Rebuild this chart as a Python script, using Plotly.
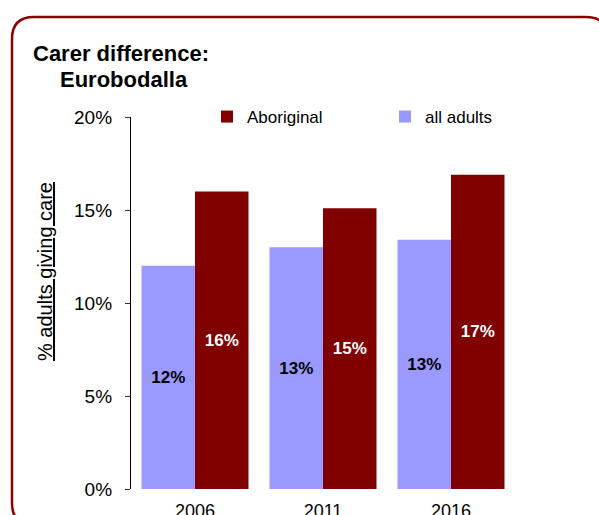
import plotly.graph_objects as go

# Share of adults providing unpaid care, Eurobodalla
years = ["2006", "2011", "2016"]
all_adults = [12.0, 13.0, 13.4]
aboriginal = [16.0, 15.1, 16.9]
y_ticks = [0, 5, 10, 15, 20]
y_tick_labels = ["0%", "5%", "10%", "15%", "20%"]

FONT = "Arial, Liberation Sans, Helvetica, sans-serif"
W, H = 599, 515
L, R, T, B = 131, 515, 117, 489  # plot area edges in pixels


def px(x):
    return (x - L) / (R - L)


def py(y):
    return (B - y) / (B - T)


fig = go.Figure()
fig.add_trace(go.Bar(
    x=years, y=all_adults, name="all adults",
    marker=dict(color="#9999FF", line=dict(width=0)),
    texttemplate="<b>%{y:.0f}%</b>", textposition="inside",
    insidetextanchor="middle", textangle=0,
    textfont=dict(family=FONT, size=17, color="#000000"),
))
fig.add_trace(go.Bar(
    x=years, y=aboriginal, name="Aboriginal",
    marker=dict(color="#800000", line=dict(width=0)),
    texttemplate="<b>%{y:.0f}%</b>", textposition="inside",
    insidetextanchor="middle", textangle=0,
    textfont=dict(family=FONT, size=17, color="#FFFFFF"),
))

# Rounded frame around the panel (runs off the right and bottom edges)
fl, ft, fr, fb, rad = 12, 17, 608, 525, 22
frame = (
    f"M {px(fl)},{py(fb - rad)} "
    f"L {px(fl)},{py(ft + rad)} Q {px(fl)},{py(ft)} {px(fl + rad)},{py(ft)} "
    f"L {px(fr - rad)},{py(ft)} Q {px(fr)},{py(ft)} {px(fr)},{py(ft + rad)} "
    f"L {px(fr)},{py(fb - rad)} Q {px(fr)},{py(fb)} {px(fr - rad)},{py(fb)} "
    f"L {px(fl + rad)},{py(fb)} Q {px(fl)},{py(fb)} {px(fl)},{py(fb - rad)} Z"
)
fig.add_shape(type="path", path=frame, xref="paper", yref="paper",
              line=dict(color="#8B0000", width=2.5), layer="above")

annotations = [
    dict(text="<b>Carer difference:</b>", x=px(31), y=py(53.5),
         xanchor="left", yanchor="middle", showarrow=False,
         font=dict(family=FONT, size=22, color="#000000")),
    dict(text="<b>Eurobodalla</b>", x=px(58), y=py(79.5),
         xanchor="left", yanchor="middle", showarrow=False,
         font=dict(family=FONT, size=22, color="#000000")),
    dict(text="<u>% adults giving care</u>", x=px(45), y=py(272),
         xanchor="center", yanchor="middle", showarrow=False, textangle=-90,
         font=dict(family=FONT, size=20, color="#000000")),
]
for a in annotations:
    a.update(xref="paper", yref="paper")

fig.update_layout(
    width=W, height=H,
    margin=dict(l=L, r=W - R, t=T, b=H - B, pad=0, autoexpand=False),
    paper_bgcolor="#FFFFFF", plot_bgcolor="#FFFFFF",
    barmode="group", bargap=0.164, bargroupgap=0,
    font=dict(family=FONT, color="#000000"),
    showlegend=True,
    legend=dict(
        orientation="h", traceorder="reversed",
        x=px(207), xanchor="left", y=py(117), yanchor="middle",
        font=dict(family=FONT, size=17, color="#000000"),
        entrywidth=133, entrywidthmode="pixels",
        bgcolor="rgba(0,0,0,0)", itemclick=False,
    ),
    annotations=annotations,
    xaxis=dict(
        showline=False, showgrid=False, ticks="", zeroline=False,
        tickfont=dict(family=FONT, size=18, color="#000000"),
        ticklabelstandoff=9, automargin=False,
    ),
    yaxis=dict(
        range=[0, 20], tickvals=y_ticks, ticktext=y_tick_labels,
        showline=True, linecolor="#000000", linewidth=1.3,
        ticks="outside", ticklen=5, tickcolor="#333333", tickwidth=1,
        showgrid=False, zeroline=False,
        tickfont=dict(family=FONT, size=19, color="#000000"),
        ticklabelstandoff=9, automargin=False,
    ),
)

fig.write_html("out.html")
